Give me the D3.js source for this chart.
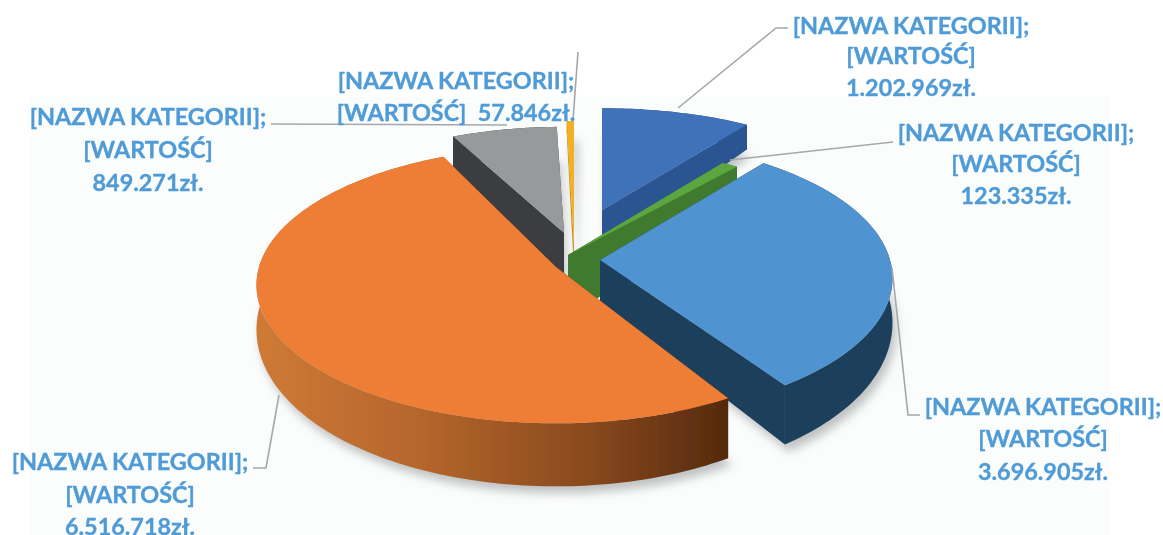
<!DOCTYPE html>
<html>
  <head>
    <meta charset="utf-8">
    <script src="https://cdn.jsdelivr.net/npm/d3@7"></script>
    <style>
      html, body { margin: 0; padding: 0; background: #fff; overflow: hidden; }
      text { font-family: Lato, "Open Sans", sans-serif; font-weight: 700; fill: #4f9bd7; stroke: #4f9bd7; stroke-width: 0.35; }
    </style>
  </head>
  <body>
    <div id="chart"></div>
    <script>
      var categories = ["[NAZWA KATEGORII]", "[NAZWA KATEGORII]", "[NAZWA KATEGORII]", "[NAZWA KATEGORII]", "[NAZWA KATEGORII]", "[NAZWA KATEGORII]"];
      var seriesName = "[WARTOŚĆ]";
      var values = [1202969, 123335, 3696905, 6516718, 849271, 57846];
      var topColors = ["#3f72b9", "#5ca63f", "#4f94d1", "#ee7d35", "#97999a", "#f2b021"];
      var wallColors = ["#2b5592", "#3f7a2f", "#1b3f5c", "#5e2f10", "#3a3d3f", "#c98f1a"];

      var WIDTH = 1163, HEIGHT = 535, PERSPECTIVE = 0.13, WALL = 42;

      // each slice is pulled out by its own amount, so it gets its own apex and radii
      // trim = small angle correction (radians) for the skew of the 3d view
      var sliceGeom = [
        { cx: 602, cy: 210, rx: 281, ry: 115, wall: 1, trim: [0, 0] },
        { cx: 568, cy: 255, rx: 300, ry: 124, wall: 1.5, trim: [0, 0] },
        { cx: 600, cy: 260, rx: 290, ry: 136, wall: 1, trim: [0, 0] },
        { cx: 556, cy: 267, rx: 297, ry: 136, wall: 1, trim: [0.065, 0.02] },
        { cx: 564, cy: 233, rx: 280, ry: 120, wall: 1.3, trim: [0, 0] },
        { cx: 574, cy: 245, rx: 280, ry: 140, wall: 0.6, trim: [0, 0] }
      ];
      // back to front
      var drawOrder = [0, 5, 4, 1, 2, 3];

      var labelLayout = [
        { x: 911, y: [34, 64, 96], line: [[678, 108], [776, 28], [788, 28]] },
        { x: 1016, y: [141, 172, 204], line: [[730, 160], [893, 142]] },
        { x: 1043, y: [415, 447, 480], line: [[892, 268], [908, 415], [920, 415]] },
        { x: 130, y: [470, 503, 535], line: [[279, 395], [266, 468], [253, 468]] },
        { x: 148, y: [125, 158, 191], line: [[271, 124], [507, 125]] },
        { x: 456, y: [89, 121], line: [[578, 52], [573, 120]] }
      ];

      var fmt = d3.formatLocale({ decimal: ",", thousands: ".", grouping: [3], currency: ["", "zł."] }).format(",.0f");

      var svg = d3.select("#chart").append("svg").attr("width", WIDTH).attr("height", HEIGHT);
      var defs = svg.append("defs");
      defs.append("filter").attr("id", "soft").append("feGaussianBlur").attr("stdDeviation", 0.6);
      defs.append("filter").attr("id", "shadow")
        .attr("x", "-20%").attr("y", "-20%").attr("width", "140%").attr("height", "140%")
        .append("feGaussianBlur").attr("stdDeviation", 5);

      var grad = defs.append("linearGradient").attr("id", "orangeWall")
        .attr("gradientUnits", "userSpaceOnUse").attr("x1", 254).attr("x2", 727).attr("y1", 0).attr("y2", 0);
      grad.append("stop").attr("offset", 0).attr("stop-color", "#cf7a36");
      grad.append("stop").attr("offset", 0.35).attr("stop-color", "#b5662c");
      grad.append("stop").attr("offset", 0.7).attr("stop-color", "#8a4a1e");
      grad.append("stop").attr("offset", 1).attr("stop-color", "#552a0e");

      // faint grey panel behind the plot
      svg.append("rect").attr("x", 30).attr("y", 97).attr("width", 1080).attr("height", HEIGHT - 97).attr("fill", "#fbfcfc");

      var arcs = d3.pie().sort(null)(values);
      var line = d3.line();

      function project(g, a, r) {
        var u = Math.sin(a) * r, v = Math.cos(a) * r;
        var s = 1 / (1 + PERSPECTIVE * v);
        return [g.cx + g.rx * u * s, g.cy - g.ry * v * s, g.wall * WALL * (1 - 0.5 * v)];
      }
      function down(p) { return [p[0], p[1] + p[2]]; }
      function flat(p) { return [p[0], p[1]]; }

      function rim(g, d) {
        var a0 = d.startAngle + g.trim[0], a1 = d.endAngle + g.trim[1];
        var n = Math.max(2, Math.ceil((a1 - a0) / 0.02));
        return d3.range(n + 1).map(function(i) {
          return project(g, a0 + (a1 - a0) * i / n, 1);
        });
      }

      var shadows = svg.append("g").attr("filter", "url(#shadow)").attr("transform", "translate(4,7)");
      var pie = svg.append("g").attr("filter", "url(#soft)");

      drawOrder.forEach(function(i) {
        var d = arcs[i], g = sliceGeom[i];
        var apex = project(g, 0, 0), edge = rim(g, d);
        var first = edge[0], last = edge[edge.length - 1];

        shadows.append("path")
          .attr("d", line([down(apex)].concat(edge.map(down))) + "Z")
          .attr("fill", "#8c8f92").attr("opacity", 0.55);

        // radial walls, then the outer wall, then the top
        [first, last].forEach(function(p) {
          pie.append("path")
            .attr("d", line([flat(apex), flat(p), down(p), down(apex)]) + "Z")
            .attr("fill", wallColors[i]);
        });
        pie.append("path")
          .attr("d", line(edge.map(flat).concat(edge.map(down).reverse())) + "Z")
          .attr("fill", i === 3 ? "url(#orangeWall)" : wallColors[i]);
        pie.append("path")
          .attr("d", line([flat(apex)].concat(edge.map(flat))) + "Z")
          .attr("fill", topColors[i]);
      });

      // leader lines
      labelLayout.forEach(function(l) {
        svg.append("path").attr("d", line(l.line))
          .attr("fill", "none").attr("stroke", "#a5a8aa").attr("stroke-width", 1.6);
      });

      // labels
      var labels = svg.append("g").attr("filter", "url(#soft)");
      labelLayout.forEach(function(l, i) {
        var name = categories[i] + ";", amount = fmt(values[i]) + "zł.";
        var lines = l.y.length === 3 ? [name, seriesName, amount] : [name, seriesName + "\u00a0\u00a0" + amount];
        lines.forEach(function(t, k) {
          labels.append("text").attr("x", l.x).attr("y", l.y[k])
            .attr("text-anchor", "middle").attr("font-size", 23.4).text(t);
        });
      });
    </script>
  </body>
</html>
